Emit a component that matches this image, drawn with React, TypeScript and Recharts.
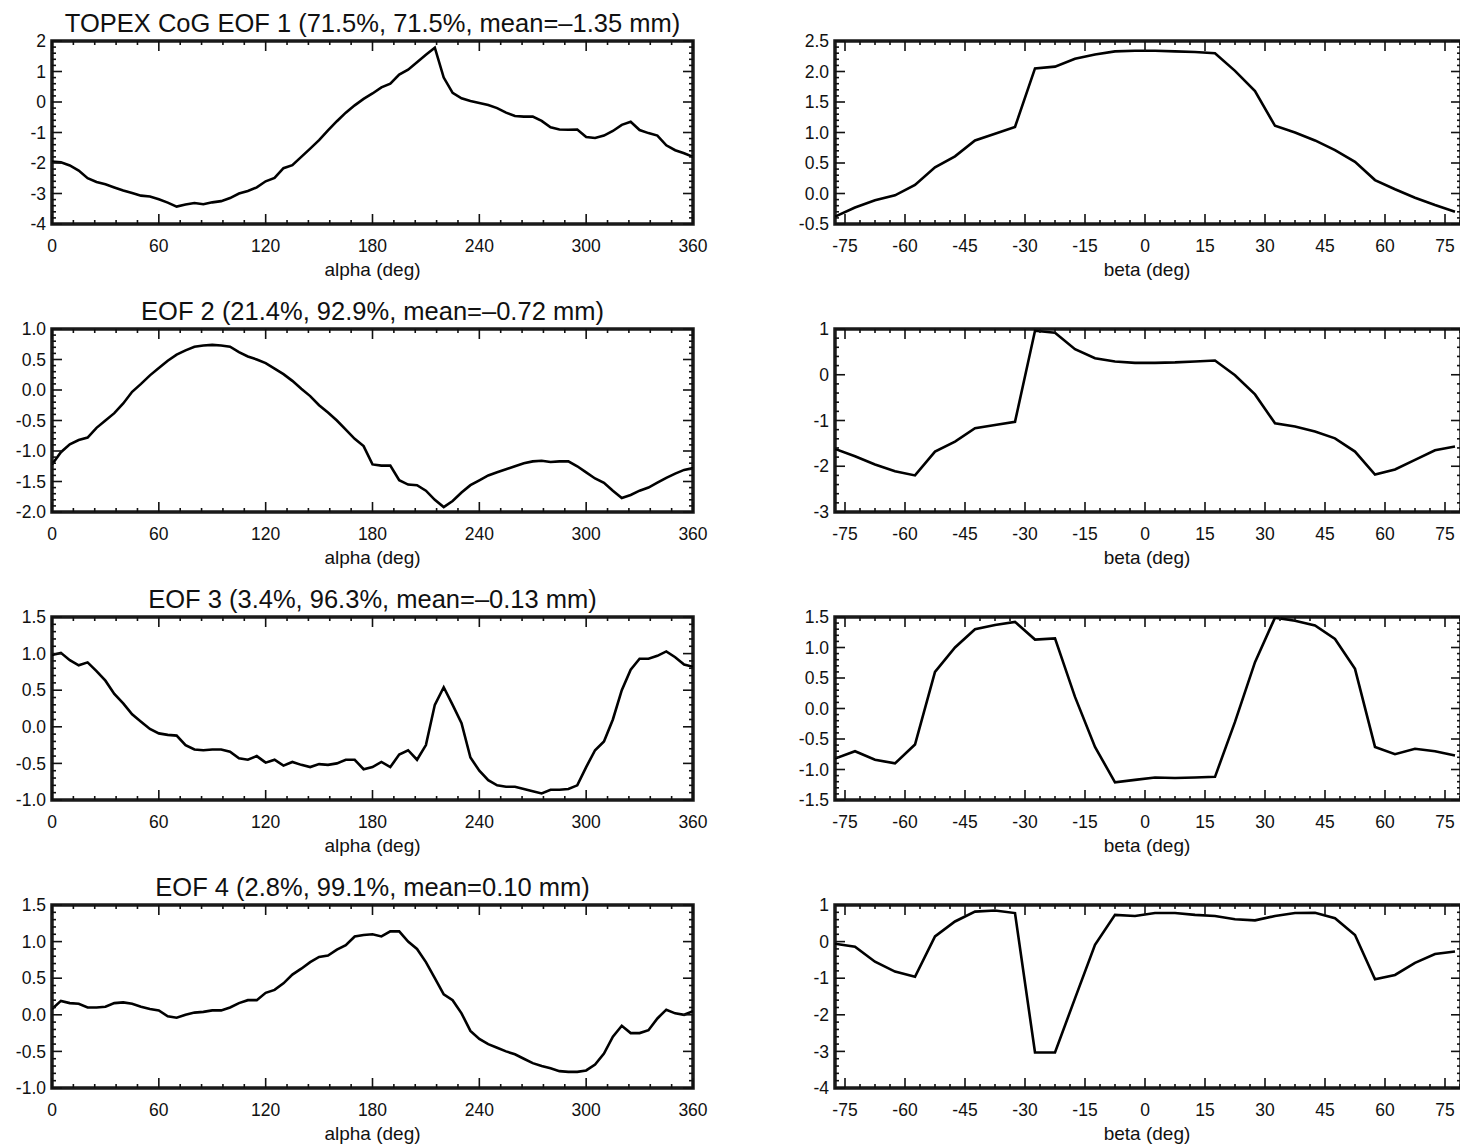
import React from "react";
import { LineChart, Line, XAxis, YAxis, ReferenceArea } from "recharts";

// ---------- categories ----------
const alphaDeg = [
  0, 5, 10, 15, 20, 25, 30, 35, 40, 45, 50, 55,
  60, 65, 70, 75, 80, 85, 90, 95, 100, 105, 110, 115,
  120, 125, 130, 135, 140, 145, 150, 155, 160, 165, 170, 175,
  180, 185, 190, 195, 200, 205, 210, 215, 220, 225, 230, 235,
  240, 245, 250, 255, 260, 265, 270, 275, 280, 285, 290, 295,
  300, 305, 310, 315, 320, 325, 330, 335, 340, 345, 350, 355,
  360,
];

const betaDeg = [
  -77.5, -72.5, -67.5, -62.5, -57.5, -52.5, -47.5, -42.5,
  -37.5, -32.5, -27.5, -22.5, -17.5, -12.5, -7.5, -2.5,
  2.5, 7.5, 12.5, 17.5, 22.5, 27.5, 32.5, 37.5,
  42.5, 47.5, 52.5, 57.5, 62.5, 67.5, 72.5, 77.5,
];

// ---------- series values (alpha dependence) ----------
const eof1Alpha = [
  -1.95, -1.98, -2.08, -2.25, -2.5, -2.62, -2.7, -2.8, -2.9, -2.98, -3.07, -3.1,
  -3.19, -3.3, -3.43, -3.36, -3.31, -3.35, -3.29, -3.25, -3.15, -3.0, -2.92, -2.8,
  -2.6, -2.49, -2.17, -2.07, -1.8, -1.53, -1.25, -0.93, -0.63, -0.35, -0.11, 0.1,
  0.28, 0.48, 0.6, 0.9, 1.06, 1.3, 1.55, 1.78, 0.8, 0.3, 0.12, 0.03,
  -0.03, -0.1, -0.2, -0.35, -0.46, -0.48, -0.48, -0.62, -0.83, -0.9, -0.91, -0.9,
  -1.15, -1.18, -1.1, -0.95, -0.75, -0.65, -0.92, -1.02, -1.1, -1.42, -1.58, -1.68,
  -1.8,
];

const eof2Alpha = [
  -1.22, -1.02, -0.89, -0.82, -0.78, -0.62, -0.5, -0.38, -0.22, -0.03, 0.1, 0.24,
  0.36, 0.48, 0.58, 0.65, 0.71, 0.73, 0.74, 0.73, 0.71, 0.62, 0.55, 0.5,
  0.44, 0.35, 0.26, 0.15, 0.02, -0.1, -0.25, -0.37, -0.5, -0.65, -0.8, -0.92,
  -1.22, -1.24, -1.24, -1.48, -1.55, -1.56, -1.65, -1.8, -1.92, -1.82, -1.68, -1.56,
  -1.48, -1.4, -1.35, -1.3, -1.25, -1.2, -1.17, -1.16, -1.18, -1.17, -1.17, -1.25,
  -1.35, -1.45, -1.52, -1.65, -1.77, -1.72, -1.65, -1.6, -1.52, -1.44, -1.37, -1.31,
  -1.28,
];

const eof3Alpha = [
  0.98, 1.01, 0.91, 0.84, 0.88, 0.76, 0.63, 0.45, 0.32, 0.17, 0.07, -0.03,
  -0.09, -0.11, -0.12, -0.25, -0.31, -0.32, -0.31, -0.31, -0.34, -0.43, -0.45, -0.4,
  -0.49, -0.45, -0.53, -0.48, -0.52, -0.55, -0.51, -0.52, -0.5, -0.45, -0.45, -0.58,
  -0.55, -0.48, -0.55, -0.38, -0.32, -0.45, -0.25, 0.3, 0.54, 0.3, 0.05, -0.42,
  -0.6, -0.73, -0.8, -0.82, -0.82, -0.85, -0.88, -0.91, -0.86, -0.86, -0.85, -0.8,
  -0.55, -0.32, -0.2, 0.1, 0.5, 0.78, 0.93, 0.93, 0.97, 1.03, 0.95, 0.85,
  0.82,
];

const eof4Alpha = [
  0.08, 0.19, 0.16, 0.15, 0.1, 0.1, 0.11, 0.16, 0.17, 0.15, 0.11, 0.08,
  0.06, -0.02, -0.04, 0.0, 0.03, 0.04, 0.06, 0.06, 0.1, 0.16, 0.2, 0.2,
  0.3, 0.34, 0.43, 0.55, 0.63, 0.72, 0.79, 0.81, 0.89, 0.95, 1.07, 1.09,
  1.1, 1.07, 1.14, 1.14, 1.0, 0.9, 0.72, 0.5, 0.28, 0.2, 0.02, -0.22,
  -0.33, -0.4, -0.45, -0.5, -0.54, -0.6, -0.66, -0.7, -0.73, -0.77, -0.78, -0.78,
  -0.76, -0.68, -0.53, -0.3, -0.15, -0.25, -0.25, -0.21, -0.05, 0.07, 0.02, 0.0,
  0.05,
];

// ---------- series values (beta dependence) ----------
const eof1Beta = [
  -0.38, -0.23, -0.11, -0.03, 0.14, 0.43, 0.61, 0.87,
  0.98, 1.09, 2.05, 2.08, 2.21, 2.28, 2.33, 2.34,
  2.34, 2.33, 2.32, 2.3, 2.01, 1.68, 1.11, 1.0,
  0.87, 0.71, 0.52, 0.22, 0.07, -0.07, -0.19, -0.3,
];

const eof2Beta = [
  -1.62, -1.78, -1.96, -2.11, -2.2, -1.68, -1.46, -1.17,
  -1.1, -1.03, 0.96, 0.92, 0.56, 0.36, 0.29, 0.26,
  0.26, 0.27, 0.29, 0.31, -0.01, -0.43, -1.06, -1.13,
  -1.24, -1.39, -1.68, -2.18, -2.07, -1.86, -1.65, -1.57,
];

const eof3Beta = [
  -0.82, -0.7, -0.84, -0.9, -0.59, 0.6, 1.0, 1.3,
  1.37, 1.42, 1.13, 1.15, 0.19, -0.63, -1.21, -1.17,
  -1.13, -1.14, -1.13, -1.12, -0.22, 0.76, 1.49, 1.44,
  1.36, 1.14, 0.65, -0.63, -0.75, -0.66, -0.7, -0.77,
];

const eof4Beta = [
  -0.06, -0.14, -0.55, -0.82, -0.96, 0.14, 0.55, 0.82,
  0.85, 0.78, -3.03, -3.03, -1.55, -0.09, 0.73, 0.7,
  0.78, 0.78, 0.73, 0.7, 0.61, 0.58, 0.7, 0.78,
  0.79, 0.64, 0.18, -1.03, -0.91, -0.58, -0.34, -0.27,
];

// ---------- tick labels ----------
const alphaMajorTicks = [0, 60, 120, 180, 240, 300, 360];
const betaMajorTicks = [-75, -60, -45, -30, -15, 0, 15, 30, 45, 60, 75];
const alphaMinorStep = 12;
const betaMinorStep = 3.75;

const titles = [
  "TOPEX CoG EOF 1 (71.5%, 71.5%, mean=\u20131.35 mm)",
  "EOF 2 (21.4%, 92.9%, mean=\u20130.72 mm)",
  "EOF 3 (3.4%, 96.3%, mean=\u20130.13 mm)",
  "EOF 4 (2.8%, 99.1%, mean=0.10 mm)",
];

const leftYTicks = [
  [-4, -3, -2, -1, 0, 1, 2],
  [-2, -1.5, -1, -0.5, 0, 0.5, 1],
  [-1, -0.5, 0, 0.5, 1, 1.5],
  [-1, -0.5, 0, 0.5, 1, 1.5],
];
const leftYMinor = [0.2, 0.1, 0.1, 0.1];
const leftYDec = [0, 1, 1, 1];

const rightYTicks = [
  [-0.5, 0, 0.5, 1, 1.5, 2, 2.5],
  [-3, -2, -1, 0, 1],
  [-1.5, -1, -0.5, 0, 0.5, 1, 1.5],
  [-4, -3, -2, -1, 0, 1],
];
const rightYMinor = [0.1, 0.2, 0.1, 0.2];
const rightYDec = [1, 0, 1, 0];

const alphaSeries = [eof1Alpha, eof2Alpha, eof3Alpha, eof4Alpha];
const betaSeries = [eof1Beta, eof2Beta, eof3Beta, eof4Beta];

// ---------- layout ----------
const FONT = '"Liberation Sans", Arial, Helvetica, sans-serif';
const ROW_TOPS = [41, 329, 617, 905];
const PLOT_TOP = 10;
const PLOT_H = 183;
const AXIS_W = 52;
const AXIS_H = 60;
const LEFT_PLOT_W = 641;
const RIGHT_PLOT_W = 626;
const RIGHT_CHART_LEFT = 783;
const ALPHA_DOMAIN: [number, number] = [0, 360];
const BETA_DOMAIN: [number, number] = [-77.5, 79];

const TICK_FS = 17.5;
const LABEL_FS = 19;
const TITLE_FS = 25.5;
const INK = "#111";

function stepTicks(lo: number, hi: number, start: number, step: number) {
  const out: number[] = [];
  const k0 = Math.ceil((lo - start) / step - 1e-9);
  const k1 = Math.floor((hi - start) / step + 1e-9);
  for (let k = k0; k <= k1; k++) out.push(Math.round((start + k * step) * 1e6) / 1e6);
  return out;
}

const isMajor = (v: number, majors: number[]) => majors.some((m) => Math.abs(m - v) < 1e-6);

type PanelProps = {
  chartLeft: number;
  rowTop: number;
  plotW: number;
  xs: number[];
  ys: number[];
  xDomain: [number, number];
  xMajor: number[];
  xMinorStart: number;
  xMinorStep: number;
  yMajor: number[];
  yMinorStep: number;
  yDec: number;
};

function Panel(p: PanelProps) {
  const data = p.xs.map((x, i) => ({ x, v: p.ys[i] }));
  const yDomain: [number, number] = [p.yMajor[0], p.yMajor[p.yMajor.length - 1]];
  const xTicks = stepTicks(p.xDomain[0], p.xDomain[1], p.xMinorStart, p.xMinorStep);
  const yTicks = stepTicks(yDomain[0], yDomain[1], yDomain[0], p.yMinorStep);
  const plotBottom = PLOT_TOP + PLOT_H;
  const plotLeft = AXIS_W;
  const plotRight = AXIS_W + p.plotW;
  const rightMargin = 30;
  const width = AXIS_W + p.plotW + rightMargin;
  const height = PLOT_TOP + PLOT_H + AXIS_H;

  const renderXTick = (props: any) => {
    const x = props.x;
    const v = props.payload.value;
    const major = isMajor(v, p.xMajor);
    const len = major ? 10 : 4;
    return (
      <g>
        <line x1={x} x2={x} y1={plotBottom} y2={plotBottom - len} stroke={INK} strokeWidth={1.6} />
        <line x1={x} x2={x} y1={PLOT_TOP} y2={PLOT_TOP + len} stroke={INK} strokeWidth={1.6} />
        {major && (
          <text
            x={x}
            y={plotBottom + 22}
            dy="0.35em"
            textAnchor="middle"
            fontSize={TICK_FS}
            fontFamily={FONT}
            fill={INK}
          >
            {String(v)}
          </text>
        )}
      </g>
    );
  };

  const renderYTick = (props: any) => {
    const y = props.y;
    const v = props.payload.value;
    const major = isMajor(v, p.yMajor);
    const len = major ? 10 : 4;
    return (
      <g>
        <line x1={plotLeft} x2={plotLeft + len} y1={y} y2={y} stroke={INK} strokeWidth={1.6} />
        <line x1={plotRight} x2={plotRight - len} y1={y} y2={y} stroke={INK} strokeWidth={1.6} />
        {major && (
          <text
            x={plotLeft - 6}
            y={y}
            dy="0.35em"
            textAnchor="end"
            fontSize={TICK_FS}
            fontFamily={FONT}
            fill={INK}
          >
            {v.toFixed(p.yDec)}
          </text>
        )}
      </g>
    );
  };

  return (
    <div style={{ position: "absolute", left: p.chartLeft, top: p.rowTop - PLOT_TOP }}>
      <LineChart
        width={width}
        height={height}
        data={data}
        margin={{ top: PLOT_TOP, right: rightMargin, left: 0, bottom: 0 }}
      >
        <XAxis
          dataKey="x"
          type="number"
          domain={p.xDomain}
          allowDataOverflow
          ticks={xTicks}
          interval={0}
          height={AXIS_H}
          axisLine={false}
          tickLine={false}
          tickSize={0}
          tick={renderXTick}
        />
        <YAxis
          type="number"
          domain={yDomain}
          allowDataOverflow
          ticks={yTicks}
          interval={0}
          width={AXIS_W}
          axisLine={false}
          tickLine={false}
          tickSize={0}
          tick={renderYTick}
        />
        <ReferenceArea
          x1={p.xDomain[0]}
          x2={p.xDomain[1]}
          y1={yDomain[0]}
          y2={yDomain[1]}
          fill="none"
          fillOpacity={0}
          stroke="#1a1a1a"
          strokeWidth={3.5}
          ifOverflow="visible"
        />
        <Line
          type="linear"
          dataKey="v"
          stroke="#000"
          strokeWidth={2.6}
          dot={false}
          isAnimationActive={false}
        />
      </LineChart>
    </div>
  );
}

export default function App() {
  return (
    <div
      style={{
        position: "absolute",
        left: 0,
        top: 0,
        width: 1460,
        height: 1145,
        overflow: "hidden",
        background: "#fff",
        fontFamily: FONT,
        color: INK,
      }}
    >
      {ROW_TOPS.map((rowTop, r) => (
        <React.Fragment key={r}>
          <div
            style={{
              position: "absolute",
              left: AXIS_W - 100,
              width: LEFT_PLOT_W + 200,
              top: rowTop - 18 - 15,
              lineHeight: "30px",
              fontSize: TITLE_FS,
              textAlign: "center",
              whiteSpace: "nowrap",
            }}
          >
            {titles[r]}
          </div>
          <Panel
            chartLeft={0}
            rowTop={rowTop}
            plotW={LEFT_PLOT_W}
            xs={alphaDeg}
            ys={alphaSeries[r]}
            xDomain={ALPHA_DOMAIN}
            xMajor={alphaMajorTicks}
            xMinorStart={0}
            xMinorStep={alphaMinorStep}
            yMajor={leftYTicks[r]}
            yMinorStep={leftYMinor[r]}
            yDec={leftYDec[r]}
          />
          <div
            style={{
              position: "absolute",
              left: AXIS_W,
              width: LEFT_PLOT_W,
              top: rowTop + PLOT_H + 46 - 12,
              lineHeight: "24px",
              fontSize: LABEL_FS,
              textAlign: "center",
            }}
          >
            alpha (deg)
          </div>
          <Panel
            chartLeft={RIGHT_CHART_LEFT}
            rowTop={rowTop}
            plotW={RIGHT_PLOT_W}
            xs={betaDeg}
            ys={betaSeries[r]}
            xDomain={BETA_DOMAIN}
            xMajor={betaMajorTicks}
            xMinorStart={-75}
            xMinorStep={betaMinorStep}
            yMajor={rightYTicks[r]}
            yMinorStep={rightYMinor[r]}
            yDec={rightYDec[r]}
          />
          <div
            style={{
              position: "absolute",
              left: 1047,
              width: 200,
              top: rowTop + PLOT_H + 46 - 12,
              lineHeight: "24px",
              fontSize: LABEL_FS,
              textAlign: "center",
            }}
          >
            beta (deg)
          </div>
        </React.Fragment>
      ))}
    </div>
  );
}
